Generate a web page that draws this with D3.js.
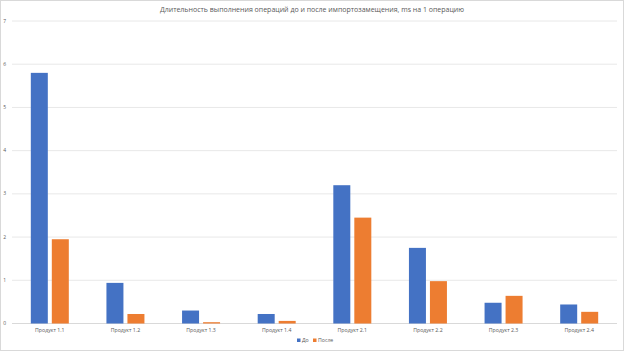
<!DOCTYPE html>
<html>
<head>
<meta charset="utf-8">
<script src="https://cdn.jsdelivr.net/npm/d3@7"></script>
<style>
  body { margin: 0; background: #fff; }
  svg { display: block; }
</style>
</head>
<body>
<div id="container"></div>
<script>
const categories = ["Продукт 1.1", "Продукт 1.2", "Продукт 1.3", "Продукт 1.4",
                    "Продукт 2.1", "Продукт 2.2", "Продукт 2.3", "Продукт 2.4"];
const seriesNames = ["До", "После"];
const before = [5.8, 0.94, 0.3, 0.22, 3.2, 1.75, 0.48, 0.44];
const after = [1.95, 0.22, 0.03, 0.06, 2.45, 0.98, 0.64, 0.27];
const yTicks = [0, 1, 2, 3, 4, 5, 6, 7];
const colors = ["#4472C4", "#ED7D31"];

const width = 624, height = 351;
const margin = { top: 21, right: 7, bottom: 27.5, left: 12 };

const svg = d3.select("#container")
  .append("svg")
  .attr("width", width)
  .attr("height", height)
  .style("font-family", "'Open Sans', 'Liberation Sans', sans-serif");

// outer border
svg.append("rect")
  .attr("x", 0.5).attr("y", 0.5)
  .attr("width", width - 1).attr("height", height - 1)
  .attr("fill", "#fff")
  .attr("stroke", "#d9d9d9");

svg.append("text")
  .attr("x", width / 2)
  .attr("y", 12)
  .attr("text-anchor", "middle")
  .attr("fill", "#595959")
  .style("font-size", "7px")
  .text("Длительность выполнения операций до и после импортозамещения, ms на 1 операцию");

const innerW = width - margin.left - margin.right;
const innerH = height - margin.top - margin.bottom;

const plot = svg.append("g")
  .attr("transform", `translate(${margin.left},${margin.top})`);

const x = d3.scaleBand()
  .domain(categories)
  .range([0, innerW]);

const y = d3.scaleLinear()
  .domain([0, 7])
  .range([innerH, 0]);

// gridlines
plot.selectAll(".grid")
  .data(yTicks)
  .enter()
  .append("line")
  .attr("x1", 0)
  .attr("x2", innerW)
  .attr("y1", d => y(d))
  .attr("y2", d => y(d))
  .attr("stroke", d => d === 0 ? "#d9d9d9" : "#e8e8e8")
  .attr("stroke-width", 1);

// y labels
plot.selectAll(".ylab")
  .data(yTicks)
  .enter()
  .append("text")
  .attr("x", -6)
  .attr("y", d => y(d) + 1.5)
  .attr("text-anchor", "end")
  .attr("fill", "#595959")
  .style("font-size", "5px")
  .text(d => d);

const barW = 17, gap = 4;
const groups = [before, after];

groups.forEach((vals, si) => {
  plot.selectAll(".bar" + si)
    .data(categories)
    .enter()
    .append("rect")
    .attr("x", (c, i) => x(c) + x.bandwidth() / 2 + (si === 0 ? -gap / 2 - barW : gap / 2))
    .attr("y", (c, i) => y(vals[i]))
    .attr("width", barW)
    .attr("height", (c, i) => y(0) - y(vals[i]))
    .attr("fill", colors[si]);
});

// category labels
plot.selectAll(".xlab")
  .data(categories)
  .enter()
  .append("text")
  .attr("x", d => x(d) + x.bandwidth() / 2)
  .attr("y", innerH + 8)
  .attr("text-anchor", "middle")
  .attr("fill", "#595959")
  .style("font-size", "5.2px")
  .text(d => d);

// legend
const legend = svg.append("g")
  .attr("transform", `translate(${297},${342})`);

seriesNames.forEach((name, i) => {
  const g = legend.append("g")
    .attr("transform", `translate(${i * 16}, 0)`);
  g.append("rect")
    .attr("x", 0).attr("y", -3.5)
    .attr("width", 3.5).attr("height", 3.5)
    .attr("fill", colors[i]);
  g.append("text")
    .attr("x", 5)
    .attr("y", 0)
    .attr("fill", "#595959")
    .style("font-size", "5.2px")
    .text(name);
});
</script>
</body>
</html>
